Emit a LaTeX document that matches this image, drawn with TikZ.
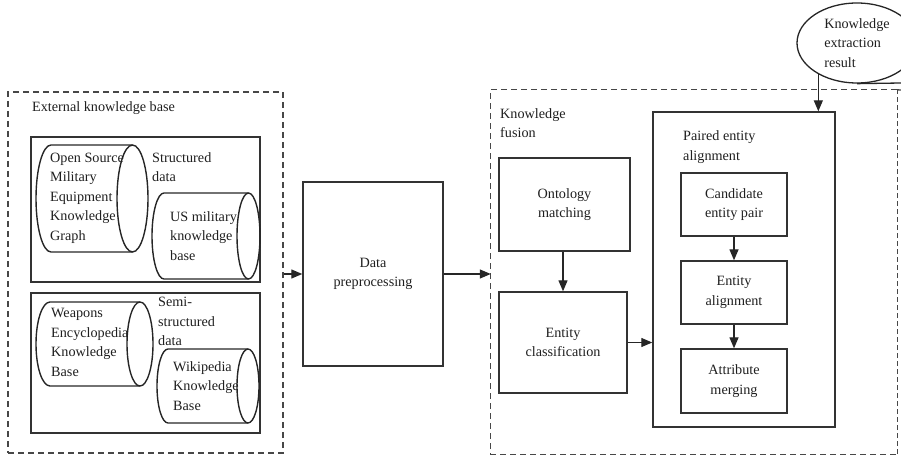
\documentclass[tikz,border=0pt]{standalone}
\usepackage{fontspec}
\setmainfont{Liberation Serif}
\usetikzlibrary{arrows.meta,shapes.geometric}
\begin{document}
\begin{tikzpicture}[x=1pt,y=-1pt,
  txt/.style={font=\fontsize{14.2}{19.5}\selectfont, text=black!88},
  box/.style={txt, draw=black!80, line width=1.4pt, inner sep=0pt, align=center},
  lbl/.style={txt, inner sep=0pt, align=left, anchor=west},
  dbox/.style={draw=black!72, line width=1.3pt, dash pattern=on 6pt off 4pt},
  frame/.style={draw=black!80, line width=1.4pt, inner sep=0pt},
  cyl/.style={draw=black!85, line width=1.4pt},
  arr/.style={-{Triangle[length=11pt,width=9pt]}, line width=1.3pt, draw=black!85}
]
\useasboundingbox (0,0) rectangle (901,457);

% ---------- external knowledge base ----------
\node[dbox, inner sep=0pt, minimum width=275pt, minimum height=361pt] (ext) at (145.5,272.5) {};
\node[lbl] (extlbl) at (32,108) {External knowledge base};

\node[frame, minimum width=229pt, minimum height=145pt] (sbox) at (145.5,209.5) {};
\node[frame, minimum width=229pt, minimum height=140pt] (ssbox) at (145.5,363) {};

% horizontal cylinders: half ellipse on the left, full ellipse on the right
\draw[cyl] (132.5,145) -- (51,145) arc[start angle=270, end angle=90, x radius=15, y radius=53.5] -- (132.5,252);
\draw[cyl] (132.5,198.5) ellipse[x radius=15.5, y radius=53.5];
\draw[cyl] (248.5,193) -- (164,193) arc[start angle=270, end angle=90, x radius=12, y radius=43] -- (248.5,279);
\draw[cyl] (248.5,236) ellipse[x radius=11.5, y radius=43];
\draw[cyl] (140,302) -- (50,302) arc[start angle=270, end angle=90, x radius=14, y radius=42] -- (140,386);
\draw[cyl] (140,344) ellipse[x radius=13, y radius=42];
\draw[cyl] (248,349) -- (168,349) arc[start angle=270, end angle=90, x radius=11, y radius=37] -- (248,423);
\draw[cyl] (248,386) ellipse[x radius=11, y radius=37];

\node[lbl] (osk) at (50,198) {Open Source\\Military\\Equipment\\Knowledge\\Graph};
\node[lbl] (sd) at (152,167) {Structured\\data};
\node[lbl] (usk) at (170,236) {US military\\knowledge\\base};
\node[lbl] (wek) at (51,342.5) {Weapons\\Encyclopedia\\Knowledge\\Base};
\node[lbl] (ssd) at (158,321.5) {Semi-\\structured\\data};
\node[lbl] (wik) at (173,386) {Wikipedia\\Knowledge\\Base};

% ---------- preprocessing ----------
\node[box, minimum width=140pt, minimum height=184pt] (dp) at (373,274) {Data\\preprocessing};

% ---------- knowledge fusion ----------
\node[inner sep=0pt, minimum width=406pt, minimum height=364pt] (fus) at (694,272) {};
\draw[dbox] (fus.north east) -- (fus.north west) -- (fus.south west) -- (fus.south east);
\draw[dbox, dash pattern=on 5pt off 3pt] (fus.south east) -- (fus.north east);
\coordinate (fusT) at (901,90);
\draw[dbox] (fus.north east) -- (fusT);
\node[lbl] (fuslbl) at (500,123) {Knowledge\\fusion};

\node[box, minimum width=131pt, minimum height=93pt] (om) at (564.5,204.5) {Ontology\\matching};
\node[box, minimum width=128pt, minimum height=101pt] (ec) at (563,342.5) {Entity\\classification};

\node[frame, minimum width=182pt, minimum height=315pt] (pea) at (744,269.5) {};
\node[lbl] (pealbl) at (683,147) {Paired entity\\alignment};
\node[box, minimum width=106pt, minimum height=63pt] (cep) at (734,204.5) {Candidate\\entity pair};
\node[box, minimum width=106pt, minimum height=63pt] (ea) at (734,292.5) {Entity\\alignment};
\node[box, minimum width=106pt, minimum height=64pt] (am) at (734,381) {Attribute\\merging};

% ---------- extraction result ----------
\node[draw=black!85, line width=1.3pt, ellipse, minimum width=120pt, minimum height=80pt, inner sep=0pt, align=left, txt] (ke) at (857,43) {Knowledge\\extraction\\result};
\coordinate (keR) at (901,83);
\draw[line width=1.3pt, draw=black!85] (ke.south) -- (keR);

% ---------- connectors ----------
\draw[arr] (dp.west -| ext.east) -- (dp.west);
\draw[arr] (dp.east) -- (dp.east -| fus.west);
\draw[arr] (om.south -| ec.north) -- (ec.north);
\draw[arr] (ec.east) -- (ec.east -| pea.west);
\draw[arr] (ke.219) -- (ke.219 |- pea.north);
\draw[arr] (cep.south) -- (ea.north);
\draw[arr] (ea.south) -- (am.north);
\end{tikzpicture}
\end{document}
